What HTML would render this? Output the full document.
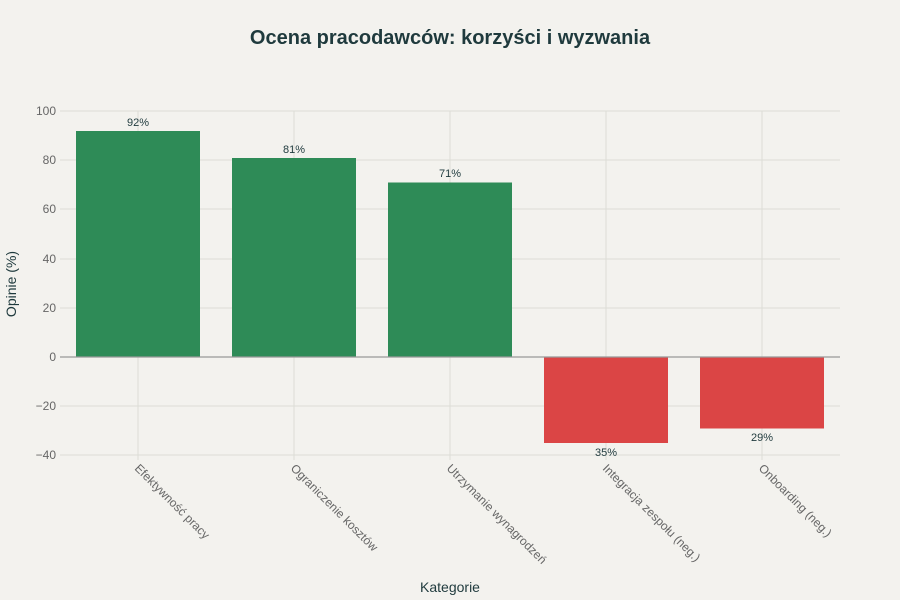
<!DOCTYPE html>
<html><head><meta charset="utf-8"><style>body{margin:0;background:#f3f2ee}svg{display:block}</style></head><body>
<svg width="900" height="600" xmlns="http://www.w3.org/2000/svg" font-family="Liberation Sans, sans-serif">
<rect width="900" height="600" fill="#f3f2ee"/>
<text x="450" y="44" text-anchor="middle" font-size="20" font-weight="bold" fill="#1f3a3d">Ocena pracodawców: korzyści i wyzwania</text>
<g stroke="#dcdcd6" stroke-width="1">
<line x1="60" x2="840" y1="111" y2="111"/><line x1="60" x2="840" y1="160" y2="160"/><line x1="60" x2="840" y1="209" y2="209"/><line x1="60" x2="840" y1="259" y2="259"/><line x1="60" x2="840" y1="308" y2="308"/><line x1="60" x2="840" y1="406" y2="406"/><line x1="60" x2="840" y1="455" y2="455"/>
<line x1="138" x2="138" y1="111" y2="460"/><line x1="294" x2="294" y1="111" y2="460"/><line x1="450" x2="450" y1="111" y2="460"/><line x1="606" x2="606" y1="111" y2="460"/><line x1="762" x2="762" y1="111" y2="460"/>
</g>
<g fill="#2e8b57">
<rect x="76" y="131" width="124" height="226"/>
<rect x="232" y="158" width="124" height="199"/>
<rect x="388" y="182.5" width="124" height="174.5"/>
</g>
<g fill="#db4545">
<rect x="544" y="357" width="124" height="86"/>
<rect x="700" y="357" width="124" height="71.5"/>
</g>
<line x1="60" x2="840" y1="357" y2="357" stroke="#999" stroke-width="1.2"/>
<g font-size="11" fill="#1f3a3d" text-anchor="middle">
<text x="138" y="126">92%</text><text x="294" y="153">81%</text><text x="450" y="177">71%</text>
<text x="606" y="456">35%</text><text x="762" y="441">29%</text>
</g>
<g font-size="12" fill="#666" text-anchor="end">
<text x="56" y="115">100</text><text x="56" y="164">80</text><text x="56" y="213">60</text><text x="56" y="263">40</text><text x="56" y="312">20</text><text x="56" y="361">0</text><text x="56" y="410">−20</text><text x="56" y="459">−40</text>
</g>
<g font-size="12" fill="#666">
<text transform="translate(134,469) rotate(45)">Efektywność pracy</text>
<text transform="translate(290,469) rotate(45)">Ograniczenie kosztów</text>
<text transform="translate(446,469) rotate(45)">Utrzymanie wynagrodzeń</text>
<text transform="translate(602,469) rotate(45)">Integracja zespołu (neg.)</text>
<text transform="translate(758,469) rotate(45)">Onboarding (neg.)</text>
</g>
<text x="450" y="592" text-anchor="middle" font-size="14" fill="#1f3a3d">Kategorie</text>
<text transform="translate(16,284) rotate(-90)" text-anchor="middle" font-size="14" fill="#1f3a3d">Opinie (%)</text>
</svg>
</body></html>
